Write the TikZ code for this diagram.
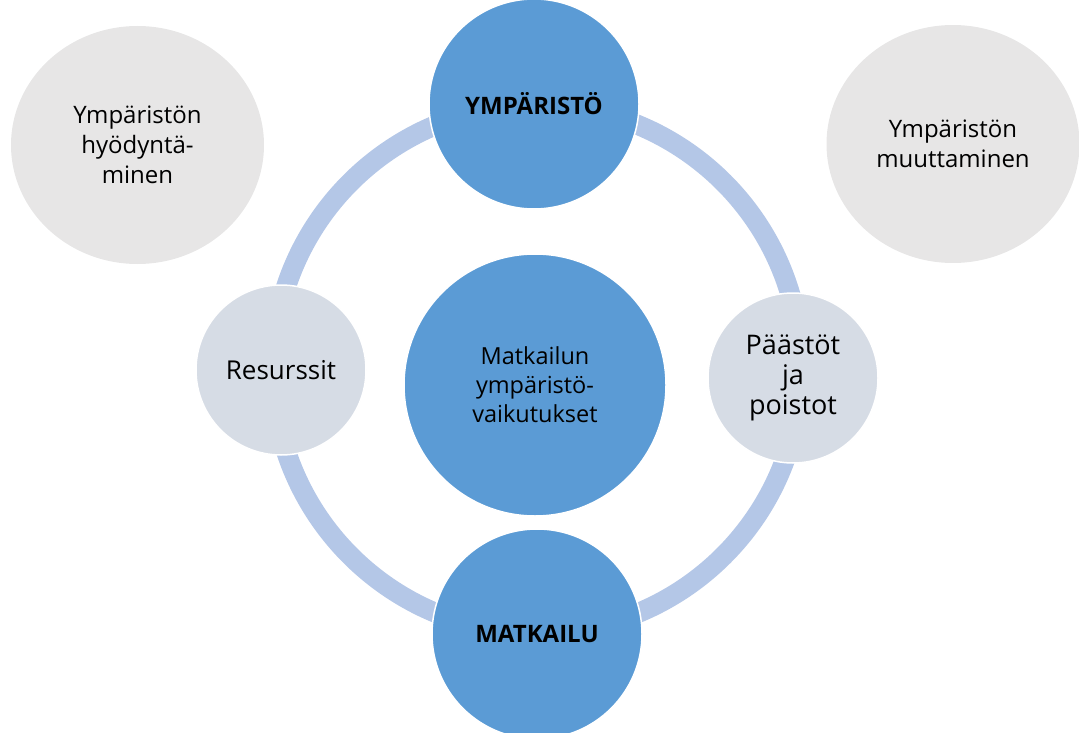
\documentclass[tikz,border=0pt]{standalone}
\usepackage{fontspec}
\usetikzlibrary{shapes.geometric}
\setmainfont{Open Sans}
\definecolor{darkblue}{HTML}{5B9BD5}
\definecolor{ringblue}{HTML}{B4C7E7}
\definecolor{lightnode}{HTML}{D6DCE5}
\definecolor{graynode}{HTML}{E7E6E6}
\begin{document}
\begin{tikzpicture}[x=1pt,y=-1pt,
  circ/.style={circle,draw=white,line width=1.5pt,inner sep=0pt,align=center},
  bigblue/.style={circ,fill=darkblue,minimum size=210pt,font=\fontsize{24}{28}\selectfont},
  centerblue/.style={circ,fill=darkblue,minimum size=262pt,font=\fontsize{23.5}{29}\selectfont},
  small/.style={circ,fill=lightnode,minimum size=170pt},
  outer/.style={ellipse,fill=graynode,inner sep=0pt,align=center,minimum width=253pt,minimum height=238pt,font=\fontsize{24}{30}\selectfont},
  ringstyle/.style={draw=ringblue,line width=20pt}]
\useasboundingbox (0,0) rectangle (1079,733);
\coordinate (ringc) at (537,369);
\draw[ringstyle] (ringc) circle[radius=264];
\node[outer] (util) at (137.5,145) {Ympäristön\\hyödyntä-\\minen};
\node[outer] (muut) at (953,144) {Ympäristön\\muuttaminen};
\node[bigblue] (ymp) at (534,104) {\textbf{YMPÄRISTÖ}};
\node[bigblue] (mat) at (537,634) {\textbf{MATKAILU}};
\node[centerblue] (mid) at (535,385) {Matkailun\\ympäristö-\\vaikutukset};
\node[small,font=\fontsize{26}{30}\selectfont] (res) at (281,370) {Resurssit};
\node[small,font=\fontsize{27}{30}\selectfont] (paa) at (793,378) {Päästöt\\ja\\poistot};
\end{tikzpicture}
\end{document}
